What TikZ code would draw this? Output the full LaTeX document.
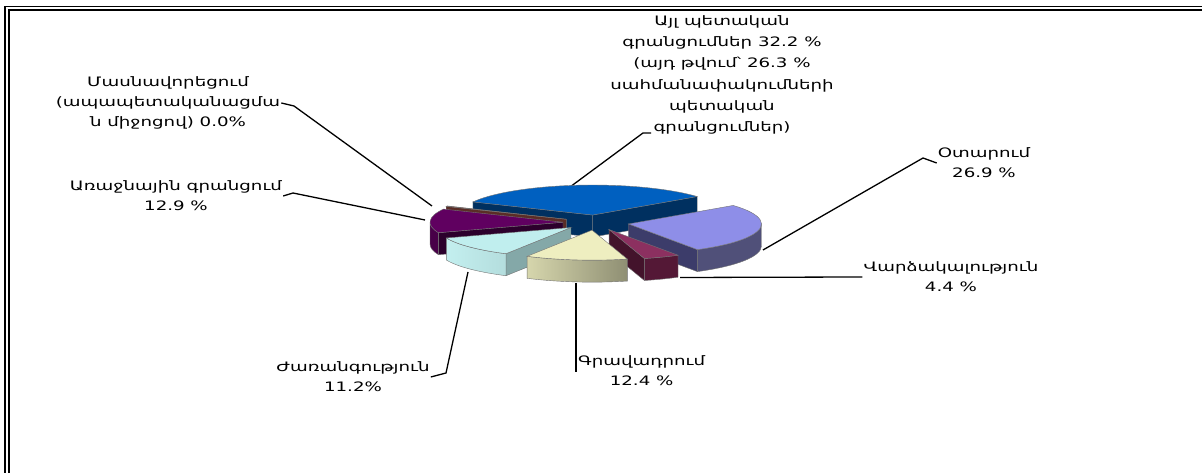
\documentclass[tikz,border=0pt]{standalone}
\usepackage{fontspec}
\newfontfamily\armfont[FakeStretch=1.4]{DejaVu Sans}
\definecolor{aylTop}{RGB}{0,96,192}
\definecolor{aylSide}{RGB}{0,48,96}
\definecolor{otaTop}{RGB}{142,142,232}
\definecolor{otaSide}{RGB}{60,60,106}
\definecolor{varTop}{RGB}{140,48,96}
\definecolor{varSide}{RGB}{84,24,54}
\definecolor{graTop}{RGB}{238,238,192}
\definecolor{zhaTop}{RGB}{192,238,238}
\definecolor{zhaFace}{RGB}{132,168,168}
\definecolor{araTop}{RGB}{96,0,96}
\definecolor{araSide}{RGB}{72,0,72}
\definecolor{araFace}{RGB}{44,0,44}
\definecolor{masTop}{RGB}{130,64,54}
\newcommand{\pietop}[4]{%
  \path[pieedge,fill=#1] (#2) -- ++(#3:133bp and 30bp)
    arc[start angle=#3,end angle=#4,x radius=133bp,y radius=30bp] -- cycle;}
\newcommand{\pieside}[4]{%
  \path[pieedge,#1] (#2) ++(#3:133bp and 30bp)
    arc[start angle=#3,end angle=#4,x radius=133bp,y radius=30bp]
    -- ++(0,-22bp)
    arc[start angle=#4,end angle=#3,x radius=133bp,y radius=30bp] -- cycle;}
\newcommand{\pieface}[3]{%
  \path[pieedge,fill=#1] (#2) -- ++(#3:133bp and 30bp) -- ++(0,-22bp)
    -- ++(#3+180:133bp and 30bp) -- cycle;}
\begin{document}
\begin{tikzpicture}[x=1bp,y=1bp,
    pieedge/.style={draw=black!55,line width=0.4bp},
    leader/.style={draw=black,line width=1.3bp},
    frame/.style={draw=black,line width=1.6bp},
    lbl/.style={font=\armfont\fontsize{13bp}{20bp}\selectfont,align=center,inner sep=1bp}]
\useasboundingbox (0,0) rectangle (1202,473);
\draw[frame] (5,0) -- (5,466.5) -- (1202,466.5);
\draw[frame] (9,0) -- (9,463) -- (1202,463);

\node[lbl,font=\armfont\fontsize{13bp}{21.2bp}\selectfont] (lblAyl) at (722,398) {Այլ պետական\\գրանցումներ 32.2 \%\\(այդ թվում՝ 26.3 \%\\սահմանափակումների\\պետական\\գրանցումներ)};
\node[lbl] (lblMas) at (168,370) {Մասնավորեցում\\(ապապետականացմա\\ն միջոցով) 0.0\%};
\node[lbl] (lblAra) at (176,277) {Առաջնային գրանցում\\12.9 \%};
\node[lbl] (lblOta) at (984,310) {Օտարում\\26.9 \%};
\node[lbl] (lblVar) at (951,196) {Վարձակալություն\\4.4 \%};
\node[lbl,anchor=west] (lblGra) at (577,102) {Գրավադրում\\12.4 \%};
\node[lbl] (lblZha) at (353,96) {Ժառանգություն\\11.2\%};

\coordinate (aylTip) at (570,286);
\coordinate (aylElb) at (643,340);
\coordinate (aylEnd) at (651,340);
\coordinate (masTip) at (432,267);
\coordinate (masElb) at (294,367);
\coordinate (araTip) at (425,253);
\coordinate (araElb) at (293,280);
\coordinate (otaTip) at (763,223);
\coordinate (otaElb) at (923,315);
\coordinate (varTip) at (680,195.5);
\coordinate (graTip) at (576,190);
\coordinate (zhaTip) at (468,201);
\coordinate (zhaElb) at (446,100);
\draw[leader] (aylTip) -- (aylElb) -- (aylEnd);
\draw[leader] (masTip) -- (masElb) -- (lblMas.east);
\draw[leader] (araTip) -- (araElb) -- (lblAra.east);
\draw[leader] (otaTip) -- (otaElb) -- (lblOta.west);
\draw[leader] (varTip) -- (lblVar.west);
\draw[leader] (graTip) |- (lblGra.west);
\draw[leader] (zhaTip) -- (zhaElb) -- (lblZha.east);

% slices, back to front
\coordinate (pc) at (596,250.4);
\coordinate (apAyl) at ([shift={(96.04:33bp and 7.6bp)}]pc);
\coordinate (apMas) at ([shift={(154:33bp and 7.6bp)}]pc);
\coordinate (apAra) at ([shift={(-182.78:33bp and 7.6bp)}]pc);
\coordinate (apOta) at ([shift={(-10.34:33bp and 7.6bp)}]pc);
\coordinate (apZha) at ([shift={(-139.4:33bp and 7.6bp)}]pc);
\coordinate (apVar) at ([shift={(-66.68:33bp and 7.6bp)}]pc);
\coordinate (apGra) at ([shift={(-96.92:33bp and 7.6bp)}]pc);

\pieface{aylSide}{apAyl}{154}
\pieface{aylSide}{apAyl}{38.08}
\pietop{aylTop}{apAyl}{154}{38.08}

\pieface{masTop!70!black}{apMas}{154.6}
\pietop{masTop}{apMas}{154.6}{153.6}

\pieface{araFace}{apAra}{-159.56}
\pieside{fill=araSide}{apAra}{-180}{-159.56}
\pietop{araTop}{apAra}{-206}{-159.56}

\pieface{otaSide}{apOta}{-58.76}
\pieside{fill=otaSide!90!white}{apOta}{-58.76}{0}
\pietop{otaTop}{apOta}{38.08}{-58.76}

\pieface{zhaFace}{apZha}{-119.24}
\pieside{left color=zhaTop!95!white,right color=zhaTop!85!black}{apZha}{-159.56}{-119.24}
\pietop{zhaTop}{apZha}{-119.24}{-159.56}

\pieface{varSide!80!black}{apVar}{-74.6}
\pieside{fill=varSide}{apVar}{-74.6}{-58.76}
\pietop{varTop}{apVar}{-58.76}{-74.6}

\pieside{left color=graTop!90!black,right color=graTop!60!black}{apGra}{-119.24}{-74.6}
\pietop{graTop}{apGra}{-74.6}{-119.24}
\end{tikzpicture}
\end{document}
